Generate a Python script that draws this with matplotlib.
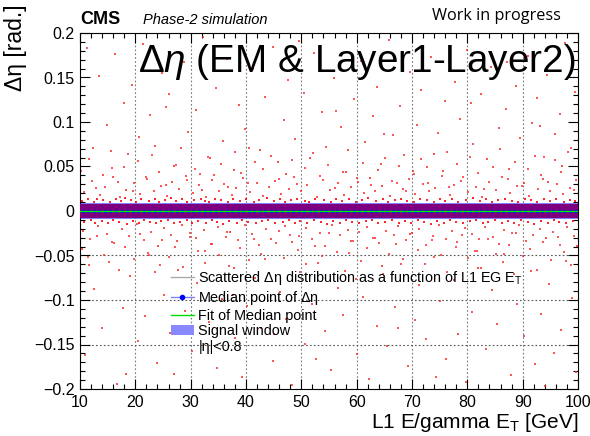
import matplotlib
matplotlib.use("Agg")
import matplotlib.pyplot as plt
from matplotlib.lines import Line2D
from matplotlib.patches import Patch
from matplotlib.ticker import MultipleLocator, FuncFormatter

plt.rcParams['font.family'] = ['Liberation Sans', 'DejaVu Sans']
plt.rcParams['mathtext.fontset'] = 'custom'
plt.rcParams['mathtext.rm'] = 'Liberation Sans'
plt.rcParams['mathtext.it'] = 'Liberation Sans:italic'

# scattered delta-eta points (ET [GeV], deta [rad])
far_up = [(11.2, .183), (13.5, .152), (14.8, .097), (16.3, .176), (17.9, .121), (18.6, .064), (19.4, .142),
          (21.3, .188), (22.7, .108), (23.5, .073), (24.9, .155), (26.1, .131), (27.4, .052), (28.8, .167),
          (29.6, .089), (30.9, .114), (32.2, .196), (33.1, .061), (34.6, .138), (35.8, .079), (36.5, .171),
          (37.9, .046), (38.7, .119), (39.8, .092), (41.3, .159), (42.6, .068), (43.4, .128), (44.9, .184),
          (45.7, .055), (46.8, .102), (47.5, .147), (48.9, .081), (50.4, .133), (51.6, .059), (52.3, .178),
          (53.7, .111), (54.5, .072), (55.9, .149), (57.2, .094), (58.1, .044), (59.6, .126), (60.8, .168),
          (61.5, .077), (62.9, .107), (63.7, .139), (64.4, .053), (65.8, .192), (66.6, .085), (67.9, .118),
          (68.5, .063), (69.7, .156), (70.9, .097), (71.6, .136), (72.8, .049), (73.5, .173), (74.7, .088),
          (75.9, .124), (76.4, .066), (77.8, .145), (78.6, .103), (79.9, .181), (81.1, .075), (82.4, .131),
          (83.6, .058), (84.2, .162), (85.7, .093), (86.9, .115), (87.5, .047), (88.8, .141), (89.6, .082),
          (90.9, .174), (91.7, .099), (92.5, .127), (93.8, .061), (94.4, .153), (95.9, .087), (96.7, .109),
          (97.6, .189), (98.8, .071), (99.4, .134), (12.4, .071), (15.7, .048), (20.6, .083), (25.5, .117),
          (31.7, .042), (40.5, .071), (49.6, .191), (56.3, .112), (64.9, .087), (70.2, .045), (80.6, .121),
          (87.1, .167), (93.2, .095), (97.1, .051)]

mid_up = [(10.2, .045), (11.7, .058), (12.9, .026), (14.1, .041), (15.6, .067), (16.9, .033), (18.0, .049),
          (19.6, .022), (20.5, .056), (21.9, .038), (23.0, .063), (24.2, .044), (25.6, .029), (26.9, .051),
          (28.2, .071), (29.4, .035), (30.7, .047), (32.0, .024), (33.5, .059), (34.2, .040), (35.4, .053),
          (36.8, .027), (38.0, .066), (39.1, .043), (40.3, .031), (41.7, .055), (43.1, .047), (44.5, .062),
          (45.9, .036), (47.2, .042), (48.4, .057), (49.2, .030), (50.7, .048), (52.1, .065), (53.4, .039),
          (54.9, .052), (56.0, .026), (57.6, .044), (58.5, .069), (60.0, .037), (61.2, .054), (62.6, .029),
          (63.8, .046), (65.2, .060), (66.4, .034), (67.7, .050), (69.0, .023), (70.4, .042), (71.7, .058),
          (72.9, .031), (74.0, .064), (75.6, .045), (76.6, .027), (78.1, .053), (79.3, .038), (80.4, .061),
          (81.9, .043), (83.1, .025), (84.7, .049), (85.9, .070), (87.3, .036), (88.6, .055), (89.9, .028),
          (91.0, .047), (92.2, .062), (93.4, .040), (94.6, .033), (95.8, .057), (97.0, .044), (98.2, .066),
          (99.3, .024)]

near_up = [(10.8, .021), (12.1, .034), (13.7, .018), (14.5, .027), (15.9, .038), (17.2, .016), (18.3, .024),
           (19.8, .031), (20.9, .019), (22.1, .036), (23.3, .022), (24.6, .028), (25.8, .017), (26.7, .033),
           (27.9, .025), (29.1, .039), (30.4, .020), (31.5, .029), (32.8, .016), (33.9, .035), (35.2, .023),
           (36.1, .030), (37.4, .018), (38.2, .026), (39.5, .037), (40.8, .021), (41.9, .032), (43.0, .017),
           (44.2, .027), (45.3, .034), (46.4, .019), (47.8, .025), (48.6, .038), (49.9, .022), (51.1, .029),
           (52.8, .016), (53.9, .035), (55.1, .024), (56.7, .031), (57.8, .018), (58.9, .027), (60.2, .033),
           (61.3, .020), (62.4, .037), (63.3, .023), (64.6, .028), (66.0, .017), (67.2, .032), (68.3, .025),
           (69.4, .036), (70.6, .019), (71.9, .030), (73.1, .022), (74.2, .026), (75.4, .039), (76.8, .018),
           (77.5, .029), (78.9, .034), (80.1, .021), (81.6, .027), (82.7, .016), (83.9, .033), (85.1, .024),
           (86.3, .038), (87.8, .020), (88.9, .028), (90.3, .031), (91.2, .017), (92.7, .025), (93.6, .036),
           (94.9, .022), (96.2, .030), (97.3, .019), (98.5, .026), (99.6, .035)]

near_down = [(10.5, -.023), (11.8, -.031), (13.2, -.017), (14.9, -.026), (16.1, -.036), (17.6, -.020),
             (18.9, -.028), (20.3, -.015), (21.6, -.033), (22.9, -.024), (24.1, -.039), (25.2, -.019),
             (26.4, -.027), (27.6, -.034), (28.5, -.016), (29.8, -.025), (31.0, -.030), (32.4, -.021),
             (33.6, -.037), (34.9, -.018), (36.3, -.029), (37.1, -.024), (38.6, -.033), (39.9, -.016),
             (41.1, -.026), (42.3, -.038), (43.7, -.020), (44.6, -.031), (46.0, -.023), (47.1, -.017),
             (48.3, -.035), (49.5, -.028), (50.8, -.019), (52.0, -.032), (53.3, -.025), (54.2, -.039),
             (55.6, -.016), (56.9, -.027), (58.4, -.021), (59.3, -.034), (60.5, -.024), (61.8, -.018),
             (63.0, -.030), (64.1, -.036), (65.3, -.022), (66.8, -.027), (67.5, -.017), (68.9, -.033),
             (70.0, -.025), (71.2, -.020), (72.5, -.038), (73.8, -.028), (74.9, -.016), (76.1, -.031),
             (77.3, -.023), (78.2, -.035), (79.5, -.019), (80.9, -.026), (82.1, -.032), (83.2, -.018),
             (84.6, -.029), (85.8, -.037), (86.6, -.021), (88.1, -.025), (89.3, -.016), (90.6, -.034),
             (91.9, -.027), (93.1, -.020), (94.2, -.030), (95.5, -.024), (96.8, -.038), (98.0, -.018),
             (99.2, -.028)]

mid_down = [(10.4, -.043), (11.6, -.061), (13.0, -.028), (14.3, -.049), (15.8, -.035), (17.0, -.066),
            (18.2, -.041), (19.7, -.054), (20.8, -.026), (22.2, -.047), (23.5, -.069), (24.8, -.033),
            (26.0, -.052), (27.2, -.040), (28.7, -.063), (29.9, -.029), (31.3, -.045), (32.5, -.058),
            (33.9, -.037), (35.1, -.050), (36.6, -.024), (37.8, -.064), (39.0, -.042), (40.6, -.055),
            (41.4, -.031), (42.7, -.048), (44.1, -.070), (45.5, -.036), (46.9, -.053), (48.0, -.027),
            (49.4, -.044), (50.9, -.060), (52.4, -.039), (53.7, -.051), (55.0, -.025), (56.4, -.046),
            (57.9, -.067), (59.0, -.034), (60.7, -.056), (61.9, -.042), (63.3, -.030), (64.5, -.062),
            (65.9, -.048), (67.1, -.037), (68.4, -.054), (69.6, -.026), (71.1, -.044), (72.3, -.059),
            (73.6, -.033), (75.2, -.050), (76.4, -.068), (77.9, -.040), (79.0, -.027), (80.2, -.053),
            (81.3, -.045), (82.5, -.064), (83.7, -.031), (85.2, -.048), (86.4, -.057), (87.6, -.038),
            (88.8, -.025), (90.0, -.051), (91.3, -.043), (92.6, -.066), (93.7, -.035), (95.1, -.055),
            (96.3, -.029), (97.5, -.046), (98.7, -.061), (99.8, -.039)]

far_down = [(10.9, -.162), (12.6, -.088), (13.9, -.131), (15.2, -.057), (16.7, -.194), (17.8, -.109),
            (19.1, -.073), (20.4, -.146), (21.8, -.118), (22.5, -.049), (23.9, -.171), (25.1, -.094),
            (26.3, -.137), (26.9, -.183), (27.7, -.066), (29.0, -.112), (30.3, -.157), (31.2, -.081),
            (32.6, -.045), (33.4, -.125), (34.8, -.176), (35.6, -.099), (36.9, -.062), (38.1, -.143),
            (39.3, -.187), (40.2, -.107), (41.6, -.075), (42.8, -.132), (43.5, -.054), (44.8, -.168),
            (46.2, -.091), (47.3, -.121), (48.4, -.196), (49.8, -.069), (50.6, -.149), (51.9, -.104),
            (53.1, -.058), (54.3, -.135), (55.4, -.179), (56.6, -.086), (57.5, -.117), (58.7, -.047),
            (60.0, -.161), (61.1, -.097), (62.2, -.189), (63.6, -.129), (64.7, -.071), (65.5, -.152),
            (66.9, -.108), (68.0, -.059), (69.2, -.174), (70.5, -.123), (71.3, -.083), (72.6, -.144),
            (73.9, -.052), (75.0, -.101), (76.2, -.166), (77.6, -.078), (78.4, -.138), (79.7, -.192),
            (80.8, -.113), (82.0, -.064), (83.3, -.155), (84.5, -.089), (85.4, -.127), (86.7, -.048),
            (87.9, -.184), (89.0, -.105), (90.2, -.141), (91.5, -.067), (92.3, -.172), (93.4, -.116),
            (94.7, -.082), (95.6, -.159), (96.9, -.134), (97.8, -.056), (99.0, -.098), (99.7, -.181),
            (11.5, -.052), (18.4, -.183), (24.4, -.061), (37.6, -.094), (45.1, -.138), (52.7, -.166),
            (59.8, -.076), (67.4, -.131), (74.3, -.186), (81.7, -.045), (88.4, -.071), (94.1, -.197)]

fringe_up = [(10.3, .011), (11.4, .013), (12.5, .010), (13.1, .014), (14.2, .012), (15.4, .010), (16.5, .013),
             (17.4, .011), (18.1, .015), (19.2, .012), (20.1, .010), (21.0, .013), (22.4, .011), (23.6, .014),
             (24.3, .010), (25.4, .012), (26.5, .015), (27.3, .011), (28.4, .013), (29.3, .010), (30.6, .012),
             (31.8, .014), (32.5, .011), (33.3, .010), (34.4, .013), (35.5, .012), (36.7, .010), (37.7, .014),
             (38.9, .011), (40.0, .013), (41.5, .010), (42.4, .012), (43.8, .015), (45.0, .011), (46.1, .013),
             (47.0, .010), (48.1, .012), (49.3, .014), (50.6, .011), (51.4, .010), (52.5, .013), (54.1, .012),
             (55.3, .010), (56.2, .014), (57.4, .011), (58.6, .013), (59.9, .010), (61.0, .012), (62.1, .015),
             (63.5, .011), (64.8, .013), (65.6, .010), (66.9, .012), (68.1, .014), (69.1, .011), (70.3, .010),
             (71.4, .013), (72.7, .012), (73.9, .010), (75.1, .014), (76.0, .011), (77.2, .013), (78.4, .010),
             (79.7, .012), (81.0, .015), (82.2, .011), (83.4, .013), (84.4, .010), (85.5, .012), (86.8, .014),
             (88.0, .011), (89.1, .010), (90.4, .013), (91.5, .012), (92.6, .010), (93.9, .014), (95.0, .011),
             (96.1, .013), (97.4, .010), (98.6, .012), (99.5, .011)]

fringe_down = [(10.7, -.012), (11.9, -.010), (12.8, -.014), (13.9, -.011), (15.0, -.013), (16.0, -.010),
               (17.1, -.012), (18.5, -.015), (19.5, -.011), (20.7, -.013), (21.5, -.010), (22.6, -.012),
               (23.8, -.014), (24.7, -.011), (25.9, -.010), (27.0, -.013), (28.1, -.012), (29.4, -.010),
               (30.2, -.014), (31.4, -.011), (32.7, -.013), (33.8, -.010), (34.7, -.012), (35.9, -.015),
               (37.0, -.011), (38.3, -.013), (39.2, -.010), (40.4, -.012), (41.8, -.014), (42.9, -.011),
               (44.0, -.010), (45.2, -.013), (46.6, -.012), (47.7, -.010), (48.8, -.014), (49.7, -.011),
               (51.0, -.013), (52.2, -.010), (53.5, -.012), (54.6, -.015), (55.8, -.011), (57.0, -.013),
               (58.0, -.010), (59.2, -.012), (60.4, -.014), (61.6, -.011), (62.7, -.010), (63.9, -.013),
               (65.1, -.012), (66.3, -.010), (67.6, -.014), (68.7, -.011), (69.8, -.013), (71.0, -.010),
               (72.2, -.012), (73.4, -.015), (74.5, -.011), (75.7, -.013), (76.9, -.010), (78.0, -.012),
               (79.2, -.014), (80.4, -.011), (81.5, -.010), (82.8, -.013), (83.8, -.012), (85.0, -.010),
               (86.2, -.014), (87.3, -.011), (88.5, -.013), (89.7, -.010), (90.9, -.012), (92.0, -.015),
               (93.3, -.011), (94.5, -.013), (95.7, -.010), (96.5, -.012), (97.9, -.014), (99.1, -.011)]

# dense core of the distribution and the signal window
core_et = [10, 100]
core_hi = [0.0078, 0.0078]
core_lo = [-0.0078, -0.0078]
window_et = [10, 100]
window_hi = [0.0090, 0.0090]
window_lo = [-0.0090, -0.0090]

# median per 1 GeV bin and linear fit (p0, p1)
median_et = [e + 0.5 for e in range(10, 100)]
median_deta = [0.0] * len(median_et)
fit_par = [0.0, 0.0]

fig = plt.figure(figsize=(5.9, 4.36), dpi=100)
ax = fig.add_axes([80 / 590, 1 - 389 / 436, 498 / 590, 356 / 436])
ax.set_xlim(10, 100)
ax.set_ylim(-0.2, 0.2)

for xv in range(20, 100, 10):
    ax.axvline(xv, color='#777777', ls=(0, (1.5, 2)), lw=0.8, zorder=0)
for yv in [-0.05, -0.1, -0.15]:
    ax.axhline(yv, color='#555555', ls=(0, (1.5, 2)), lw=0.8, zorder=0)

for pts in [far_up, mid_up, near_up, near_down, mid_down, far_down]:
    ax.scatter([p[0] for p in pts], [p[1] for p in pts], s=3, marker='s', c='#ff2020',
               alpha=0.75, linewidths=0, zorder=2)
for pts in [fringe_up, fringe_down]:
    ax.scatter([p[0] for p in pts], [p[1] for p in pts], s=3, marker='s', c='#ff0000',
               alpha=0.85, linewidths=0, zorder=2)

ax.fill_between(core_et, core_lo, core_hi, color='#ff0000', lw=0, zorder=3)
ax.fill_between(window_et, window_lo, window_hi, color='#0000ff', alpha=0.5, lw=0, zorder=4)
ax.plot(median_et, median_deta, color='#0000ff', marker='s', ms=1.6, lw=0, zorder=5)
fit_x = [10, 100]
ax.plot(fit_x, [fit_par[0] + fit_par[1] * e for e in fit_x], color='#00ee00', lw=1, zorder=6)

ax.xaxis.set_major_locator(MultipleLocator(10))
ax.xaxis.set_minor_locator(MultipleLocator(2))
ax.yaxis.set_major_locator(MultipleLocator(0.05))
ax.yaxis.set_minor_locator(MultipleLocator(0.01))
ax.yaxis.set_major_formatter(FuncFormatter(lambda v, p: ('%g' % round(v, 3)).replace('-', '\u2212')))
ax.tick_params(which='both', direction='in', top=True, right=True, labelsize=11.5, width=0.8)
ax.tick_params(which='major', length=7, pad=4)
ax.tick_params(which='minor', length=3.5)
for sp in ax.spines.values():
    sp.set_linewidth(0.8)

ax.set_xlabel(r'L1 E/gamma $\mathregular{E_T}$ [GeV]', fontsize=15, loc='right')
ax.xaxis.set_label_coords(1.0, -0.063)
ax.set_ylabel('\u0394\u03b7 [rad.]', fontsize=16.5, loc='top')
ax.yaxis.set_label_coords(-0.106, 1.08)

handles = [Line2D([], [], color='#aaaaaa', lw=1),
           Line2D([], [], color='#8080ff', lw=1, marker='o', ms=3, mfc='#0000ff', mec='#0000ff'),
           Line2D([], [], color='#00dd00', lw=1),
           Patch(facecolor='#8888ff', edgecolor='none'),
           Line2D([], [], color='none')]
labels = [r'Scattered $\mathregular{\Delta\eta}$ distribution as a function of L1 EG $\mathregular{E_T}$',
          r'Median point of $\mathregular{\Delta\eta}$',
          'Fit of Median point',
          'Signal window',
          '|\u03b7|<0.8']
ax.legend(handles, labels, loc='upper left', bbox_to_anchor=(0.168, 0.357), frameon=False,
          fontsize=10.4, handlelength=1.6, handletextpad=0.3, labelspacing=0.12, borderpad=0)

fig.text(80 / 590, 1 - 24 / 436, 'CMS', fontsize=13, fontweight='bold', va='baseline')
fig.text(143 / 590, 1 - 24 / 436, 'Phase-2 simulation', fontsize=10.5, style='italic', va='baseline')
fig.text(432 / 590, 1 - 20 / 436, 'Work in progress', fontsize=11.7, family='Open Sans', va='baseline')
fig.text(138 / 590, 1 - 72 / 436, r'$\Delta\eta$ (EM & Layer1-Layer2)', fontsize=27.8, va='baseline')

fig.savefig('out.png', dpi=100)
